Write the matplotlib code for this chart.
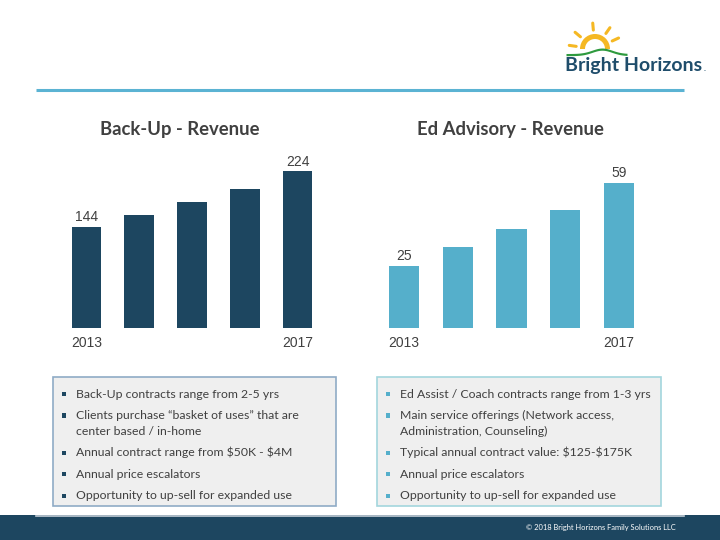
import matplotlib
matplotlib.use("Agg")
import matplotlib.pyplot as plt
from matplotlib.patches import Rectangle, Wedge
import numpy as np

# chart data
years = ["2013", "2014", "2015", "2016", "2017"]
backup_revenue = [144, 162, 180, 199, 224]
ed_revenue = [25, 33, 40, 48, 59]

backup_notes = [
    "Back-Up contracts range from 2-5 yrs",
    "Clients purchase \u201cbasket of uses\u201d that are\ncenter based / in-home",
    "Annual contract range from \\$50K - \\$4M",
    "Annual price escalators",
    "Opportunity to up-sell for expanded use",
]
ed_notes = [
    "Ed Assist / Coach contracts range from 1-3 yrs",
    "Main service offerings (Network access,\nAdministration, Counseling)",
    "Typical annual contract value: \\$125-\\$175K",
    "Annual price escalators",
    "Opportunity to up-sell for expanded use",
]

W, H = 720, 540
NAVY = "#1d4660"
TEAL = "#55afcb"
GREY = "#404040"

fig = plt.figure(figsize=(7.2, 5.4), dpi=100)
fig.patch.set_facecolor("white")

# full-figure overlay in pixel coords (y down)
bg = fig.add_axes([0, 0, 1, 1])
bg.set_xlim(0, W)
bg.set_ylim(H, 0)
bg.axis("off")


def px_axes(x0, y0, x1, y1):
    # y0 is top, y1 is bottom (pixels from top)
    return fig.add_axes([x0 / W, 1 - y1 / H, (x1 - x0) / W, (y1 - y0) / H])


def bar_chart(x0, x1, top, ymax, values, color, title, title_x):
    ax = px_axes(x0, top, x1, 327.7)
    x = np.arange(len(values))
    ax.bar(x, values, width=0.56, color=color)
    ax.set_xlim(-0.5, len(values) - 0.5)
    ax.set_ylim(0, ymax)
    ax.axis("off")
    n = len(values)
    for i in (0, n - 1):
        ax.annotate(str(values[i]), (x[i], values[i]), xytext=(0, 2),
                    textcoords="offset points", ha="center", va="bottom",
                    fontsize=10, color=GREY, family="Liberation Sans")
        cx = x0 + (x1 - x0) * (i + 0.5) / n
        bg.text(cx, 343, years[i], ha="center", va="center", fontsize=10,
                color=GREY, family="Liberation Sans")
    bg.text(title_x, 130, title, ha="center", va="center", fontsize=13.3,
            fontweight="bold", color=GREY, family="Lato")
    return ax


ax1 = bar_chart(60, 324, 327.7 - 174.4, 250, backup_revenue, NAVY,
                "Back-Up - Revenue", 180)
ax2 = bar_chart(377, 646, 327.7 - 172.2, 70, ed_revenue, TEAL,
                "Ed Advisory - Revenue", 510)


def note_box(x0, x1, edge, bullet, notes):
    bg.add_patch(Rectangle((x0, 377), x1 - x0, 129, facecolor="#efefef",
                           edgecolor=edge, lw=1.2))
    y = 394
    for item in notes:
        lines = item.split("\n")
        bg.add_patch(Rectangle((x0 + 9, y - 2.2), 4.4, 4.4, facecolor=bullet,
                               edgecolor="none"))
        for ln in lines:
            bg.text(x0 + 22.5, y, ln, ha="left", va="center", fontsize=8.8,
                    color=GREY, family="Lato")
            y += 15.7
        y += 5.8


note_box(53, 336, "#8fabc6", NAVY, backup_notes)
note_box(377, 661, "#a3d6dd", TEAL, ed_notes)

# header rule
bg.plot([36, 684], [90, 90], color="#5bb3d3", lw=2.2, solid_capstyle="butt")

# footer
bg.add_patch(Rectangle((0, 515), W, 25, facecolor=NAVY, edgecolor="none"))
bg.plot([36, 684], [515.5, 515.5], color="#c4ced8", lw=1.2)
bg.text(676, 527.5, "\u00a9 2018 Bright Horizons Family Solutions LLC",
        ha="right", va="center", fontsize=5.4, color="white", family="Lato")

# logo: sun, rays, hill and wordmark
cx, cy = 595, 49
bg.add_patch(Wedge((cx, cy), 15, 180, 360, width=5, facecolor="#f5b823",
                   edgecolor="none"))
for ang in (172, 140, 95, 55, 25):
    a = np.deg2rad(ang)
    r0, r1 = 19, 26
    bg.plot([cx + r0 * np.cos(a), cx + r1 * np.cos(a)],
            [cy - r0 * np.sin(a), cy - r1 * np.sin(a)],
            color="#f5b823", lw=2.2, solid_capstyle="round")
hx = np.linspace(566, 627, 40)
hy = 53.5 - 5.5 * np.exp(-((hx - 602) / 14) ** 2)
bg.fill_between(hx, hy, hy + 2.2, color="#2e9a3e", lw=0)
bg.text(565, 65, "Bright Horizons", ha="left", va="center", fontsize=14,
        fontweight="bold", color="#1f4d6b", family="Lato")
bg.text(704, 72, ".", ha="left", va="bottom", fontsize=6,
        color="#1f4d6b", family="Lato")

fig.savefig("out.png", dpi=100, facecolor="white")
